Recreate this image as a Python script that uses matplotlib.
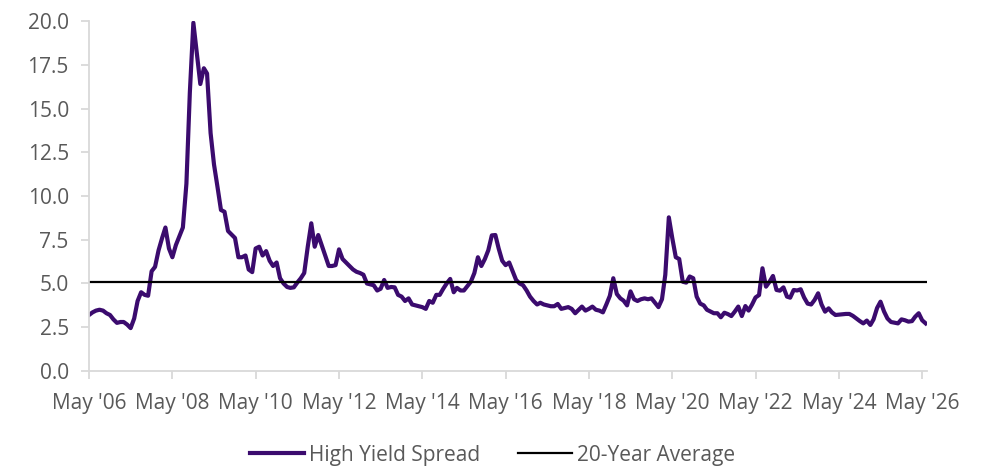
import pandas as pd
import matplotlib
matplotlib.use('Agg')
import matplotlib.pyplot as plt
import matplotlib.dates as mdates

plt.rcParams['font.family'] = ['Open Sans', 'DejaVu Sans']

# monthly high yield spread (%), May 2006 onwards
spread = [
    3.2, 3.35, 3.45, 3.5, 3.45, 3.3, 3.2, 2.95, 2.75, 2.8, 2.8, 2.65,
    2.45, 3.0, 4.0, 4.5, 4.35, 4.3, 5.7, 5.95, 6.9, 7.6, 8.2, 7.0,
    6.5, 7.2, 7.7, 8.2, 10.7, 15.9, 19.9, 18.2, 16.4, 17.3, 17.0, 13.6,
    11.8, 10.5, 9.2, 9.1, 8.0, 7.8, 7.6, 6.5, 6.5, 6.6, 5.8, 5.65,
    7.0, 7.1, 6.6, 6.85, 6.3, 6.0, 6.2, 5.3, 5.0, 4.8, 4.75, 4.78,
    5.05, 5.3, 5.6, 7.1, 8.44, 7.1, 7.77, 7.2, 6.6, 6.0, 6.0, 6.05,
    6.95, 6.4, 6.2, 6.0, 5.8, 5.67, 5.6, 5.5, 5.0, 4.95, 4.9, 4.6,
    4.7, 5.2, 4.75, 4.8, 4.78, 4.35, 4.25, 4.0, 4.15, 3.8, 3.75, 3.7,
    3.65, 3.55, 4.0, 3.9, 4.35, 4.35, 4.7, 5.0, 5.26, 4.5, 4.75, 4.6,
    4.6, 4.85, 5.1, 5.6, 6.5, 6.0, 6.4, 6.9, 7.75, 7.77, 7.0, 6.3,
    6.05, 6.2, 5.7, 5.2, 5.0, 4.9, 4.6, 4.25, 4.0, 3.8, 3.9, 3.8,
    3.75, 3.7, 3.7, 3.83, 3.55, 3.6, 3.65, 3.55, 3.3, 3.5, 3.68, 3.45,
    3.55, 3.68, 3.5, 3.45, 3.35, 3.8, 4.3, 5.3, 4.4, 4.15, 4.02, 3.75,
    4.55, 4.1, 4.0, 4.1, 4.15, 4.1, 4.15, 3.9, 3.65, 4.1, 5.5, 8.78,
    7.6, 6.5, 6.4, 5.1, 5.05, 5.4, 5.3, 4.25, 3.85, 3.75, 3.5, 3.4,
    3.3, 3.3, 3.07, 3.33, 3.25, 3.14, 3.4, 3.68, 3.14, 3.71, 3.45, 3.8,
    4.2, 4.34, 5.87, 4.82, 5.1, 5.43, 4.63, 4.59, 4.78, 4.25, 4.19, 4.63,
    4.6, 4.67, 4.2, 3.85, 3.8, 4.06, 4.44, 3.8, 3.39, 3.58, 3.35, 3.2,
    3.22, 3.24, 3.26, 3.26, 3.15, 3.0, 2.85, 2.72, 2.88, 2.63, 2.95, 3.6,
    3.96, 3.4, 3.0, 2.8, 2.76, 2.72, 2.95, 2.9, 2.82, 2.85, 3.1, 3.3,
    2.9, 2.72,
]
average = 5.1
dates = pd.date_range('2006-05-01', periods=len(spread), freq='MS')
tick_years = list(range(2006, 2027, 2))

fig = plt.figure(figsize=(9.89, 4.67), dpi=100)
ax = fig.add_axes([0.090, 0.2056, 0.847, 0.7494])

ax.plot(dates, spread, color='#3B0B6E', lw=3.0, label='High Yield Spread', solid_joinstyle='round')
ax.axhline(average, color='black', lw=1.6, label='20-Year Average')

ax.set_ylim(0, 20)
ax.set_yticks([0, 2.5, 5, 7.5, 10, 12.5, 15, 17.5, 20])
ax.yaxis.set_major_formatter(matplotlib.ticker.FormatStrFormatter('%.1f'))
ax.set_xlim(pd.Timestamp('2006-05-01'), pd.Timestamp('2026-06-10'))
ax.set_xticks([pd.Timestamp(f'{y}-05-01') for y in tick_years])
ax.xaxis.set_major_formatter(mdates.DateFormatter("%b '%y"))

for s in ['top', 'right']:
    ax.spines[s].set_visible(False)
for s in ['left', 'bottom']:
    ax.spines[s].set_color('#D9D9D9')
    ax.spines[s].set_linewidth(1.3)
ax.tick_params(colors='#D9D9D9', labelcolor='#595959', labelsize=15, length=5.5, width=1.3)
ax.tick_params(axis='y', pad=9)
ax.tick_params(axis='x', pad=10.5)

ax.legend(loc='upper center', bbox_to_anchor=(0.482, -0.157), ncol=2, frameon=False,
          fontsize=15, labelcolor='#595959', handlelength=2.6, columnspacing=1.8,
          handletextpad=0.25)

fig.savefig('out.png', dpi=100)
